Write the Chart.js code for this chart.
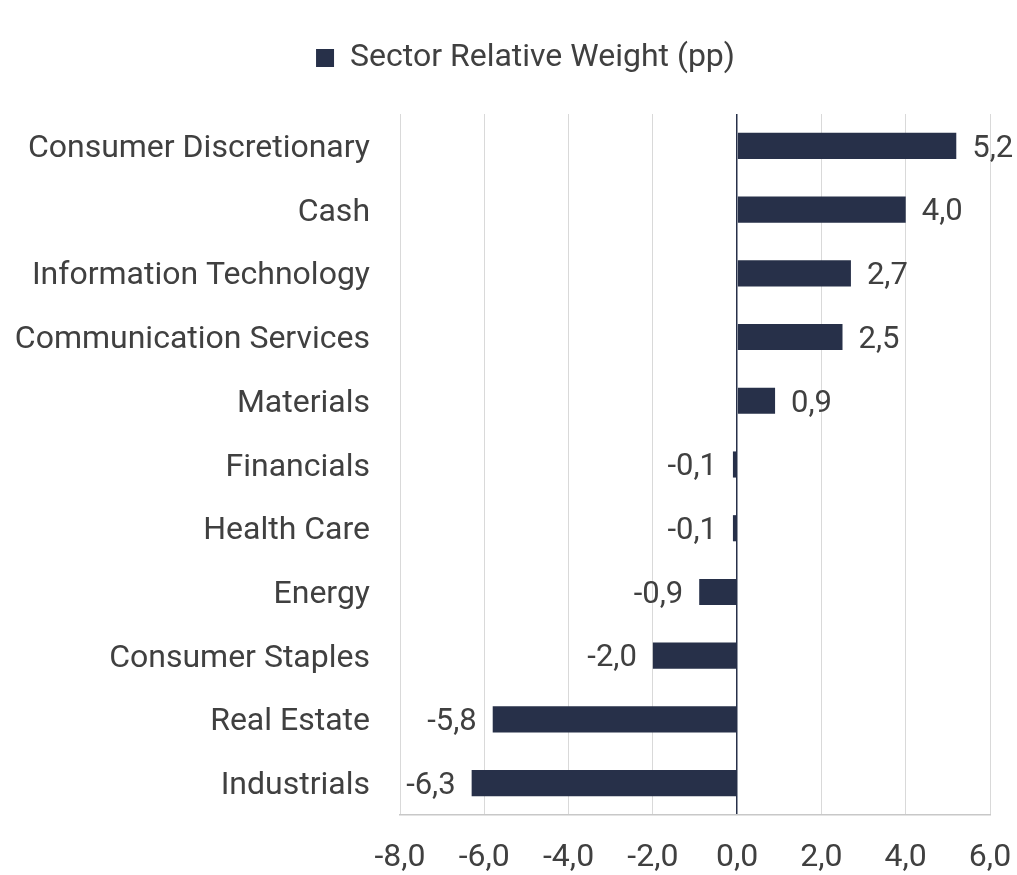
<!DOCTYPE html>
<html>
<head>
<meta charset="utf-8">
<script src="https://cdn.jsdelivr.net/npm/chart.js@4/dist/chart.umd.min.js"></script>
<style>
  html, body { margin: 0; padding: 0; background: #fff; }
  #wrap { width: 1017px; height: 875px; }
</style>
</head>
<body>
<div id="wrap"><canvas id="chart"></canvas></div>
<script>
const sectors = ['Consumer Discretionary', 'Cash', 'Information Technology', 'Communication Services',
  'Materials', 'Financials', 'Health Care', 'Energy', 'Consumer Staples', 'Real Estate', 'Industrials'];
const weights = [5.2, 4.0, 2.7, 2.5, 0.9, -0.1, -0.1, -0.9, -2.0, -5.8, -6.3];
const xMin = -8;
const xMax = 6;

const textColor = '#404040';
const barColor = '#273049';
const fontSize = 32;

function fmt(v) {
  return v.toFixed(1).replace('.', ',');
}

// draws the value next to the end of each bar
const valueLabels = {
  id: 'valueLabels',
  afterDatasetsDraw(chart) {
    const ctx = chart.ctx;
    const meta = chart.getDatasetMeta(0);
    ctx.save();
    ctx.font = '31px Roboto';
    ctx.fillStyle = textColor;
    ctx.textBaseline = 'middle';
    meta.data.forEach((bar, i) => {
      const v = weights[i];
      if (v >= 0) {
        ctx.textAlign = 'left';
        ctx.fillText(fmt(v), bar.x + 16, bar.y + 3);
      } else {
        ctx.textAlign = 'right';
        ctx.fillText(fmt(v), bar.x - 16, bar.y + 3);
      }
    });
    ctx.restore();
  }
};

// more room under the legend, and nudge it a bit to the right
const legendTweak = {
  id: 'legendTweak',
  beforeLayout(chart) {
    const lg = chart.legend;
    if (lg && !lg._patched) {
      const fit = lg.fit;
      lg.fit = function () {
        fit.call(this);
        this.height += 30;
      };
      lg._patched = true;
    }
  },
  afterLayout(chart) {
    if (chart.legend) chart.legend.left += 34;
  }
};

Chart.defaults.font.family = 'Roboto';
Chart.defaults.color = textColor;

new Chart(document.getElementById('chart'), {
  type: 'bar',
  data: {
    labels: sectors,
    datasets: [{
      label: 'Sector Relative Weight (pp)',
      data: weights,
      backgroundColor: barColor,
      borderWidth: 0,
      categoryPercentage: 1,
      barPercentage: 0.41
    }]
  },
  options: {
    indexAxis: 'y',
    responsive: true,
    maintainAspectRatio: false,
    animation: false,
    layout: { padding: { top: 32, right: 0, bottom: 0, left: 0 } },
    plugins: {
      legend: {
        display: true,
        labels: {
          font: { size: fontSize },
          color: textColor,
          boxWidth: 18,
          boxHeight: 18,
          padding: 10
        }
      },
      tooltip: { enabled: false }
    },
    scales: {
      x: {
        min: xMin,
        max: xMax,
        ticks: {
          stepSize: 2,
          font: { size: fontSize },
          color: textColor,
          padding: 24,
          callback: (v) => fmt(v)
        },
        grid: {
          drawTicks: false,
          color: (c) => c.tick && c.tick.value === 0 ? barColor : '#d9d9d9',
          lineWidth: (c) => c.tick && c.tick.value === 0 ? 1.5 : 1
        },
        border: { display: true, color: '#c8c8c8', width: 1.5 },
        afterFit: (scale) => {
          scale.height = 60;
          scale.paddingRight = 27;
        }
      },
      y: {
        ticks: {
          font: { size: fontSize },
          color: textColor,
          padding: 30,
          labelOffset: 3
        },
        grid: { display: false, drawTicks: false },
        border: { display: false },
        afterFit: (scale) => { scale.width = 400; }
      }
    }
  },
  plugins: [valueLabels, legendTweak]
});
</script>
</body>
</html>
